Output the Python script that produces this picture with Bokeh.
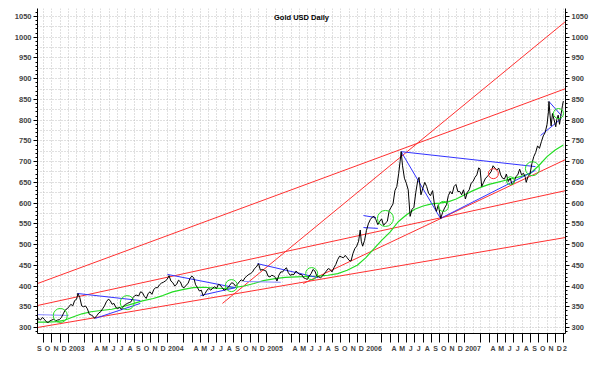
from datetime import date
from bokeh.plotting import figure
from bokeh.models import Range1d, LinearAxis, FixedTicker, Label
from bokeh.embed import file_html
from bokeh.resources import INLINE

# ---------------- data ----------------
price_dates = [
 "2002-09-09","2002-09-13","2002-09-20","2002-09-27","2002-10-04","2002-10-11","2002-10-18","2002-10-25",
 "2002-11-01","2002-11-08","2002-11-15","2002-11-22","2002-11-29","2002-12-06","2002-12-13","2002-12-20","2002-12-27",
 "2003-01-03","2003-01-10","2003-01-17","2003-01-24","2003-01-31","2003-02-05","2003-02-12","2003-02-19","2003-02-26",
 "2003-03-05","2003-03-12","2003-03-19","2003-03-26","2003-04-02","2003-04-07","2003-04-15","2003-04-23","2003-04-30",
 "2003-05-07","2003-05-14","2003-05-21","2003-05-28","2003-06-04","2003-06-11","2003-06-18","2003-06-25","2003-07-02",
 "2003-07-09","2003-07-16","2003-07-23","2003-07-30","2003-08-06","2003-08-13","2003-08-20","2003-08-27","2003-09-03",
 "2003-09-10","2003-09-17","2003-09-24","2003-10-01","2003-10-08","2003-10-15","2003-10-22","2003-10-29","2003-11-05",
 "2003-11-12","2003-11-19","2003-11-26","2003-12-03","2003-12-10","2003-12-17","2003-12-24","2003-12-31",
 "2004-01-07","2004-01-14","2004-01-21","2004-01-28","2004-02-04","2004-02-11","2004-02-18","2004-02-25","2004-03-03",
 "2004-03-10","2004-03-17","2004-03-24","2004-03-31","2004-04-07","2004-04-14","2004-04-21","2004-04-28","2004-05-05",
 "2004-05-12","2004-05-19","2004-05-26","2004-06-02","2004-06-09","2004-06-16","2004-06-23","2004-06-30","2004-07-07",
 "2004-07-14","2004-07-21","2004-07-28","2004-08-04","2004-08-11","2004-08-18","2004-08-25","2004-09-01","2004-09-08",
 "2004-09-15","2004-09-22","2004-09-29","2004-10-06","2004-10-13","2004-10-20","2004-10-27","2004-11-03","2004-11-10",
 "2004-11-17","2004-11-24","2004-12-02","2004-12-09","2004-12-16","2004-12-23","2004-12-30",
 "2005-01-06","2005-01-13","2005-01-20","2005-01-27","2005-02-03","2005-02-08","2005-02-15","2005-02-22","2005-03-01",
 "2005-03-08","2005-03-15","2005-03-22","2005-03-29","2005-04-05","2005-04-12","2005-04-19","2005-04-26","2005-05-03",
 "2005-05-10","2005-05-17","2005-05-24","2005-05-31","2005-06-07","2005-06-14","2005-06-21","2005-06-28","2005-07-05",
 "2005-07-12","2005-07-19","2005-07-26","2005-08-02","2005-08-09","2005-08-16","2005-08-23","2005-08-30","2005-09-06",
 "2005-09-13","2005-09-20","2005-09-27","2005-10-04","2005-10-11","2005-10-18","2005-10-25","2005-11-01","2005-11-08",
 "2005-11-15","2005-11-22","2005-11-29","2005-12-06","2005-12-12","2005-12-16","2005-12-21","2005-12-28",
 "2006-01-04","2006-01-11","2006-01-18","2006-01-25","2006-02-01","2006-02-08","2006-02-15","2006-02-22","2006-03-01",
 "2006-03-08","2006-03-15","2006-03-22","2006-03-29","2006-04-05","2006-04-12","2006-04-19","2006-04-26","2006-05-03",
 "2006-05-08","2006-05-12","2006-05-17","2006-05-24","2006-05-31","2006-06-07","2006-06-14","2006-06-21","2006-06-28",
 "2006-07-05","2006-07-12","2006-07-17","2006-07-24","2006-07-31","2006-08-07","2006-08-14","2006-08-21","2006-08-28",
 "2006-09-05","2006-09-12","2006-09-19","2006-09-26","2006-10-05","2006-10-12","2006-10-19","2006-10-26","2006-11-02",
 "2006-11-09","2006-11-16","2006-11-23","2006-11-30","2006-12-07","2006-12-14","2006-12-21","2006-12-28",
 "2007-01-04","2007-01-11","2007-01-18","2007-01-25","2007-02-01","2007-02-08","2007-02-15","2007-02-22","2007-02-27",
 "2007-03-05","2007-03-12","2007-03-19","2007-03-26","2007-04-02","2007-04-09","2007-04-16","2007-04-23","2007-04-30",
 "2007-05-07","2007-05-14","2007-05-21","2007-05-28","2007-06-04","2007-06-11","2007-06-18","2007-06-25","2007-07-02",
 "2007-07-09","2007-07-16","2007-07-23","2007-07-30","2007-08-06","2007-08-13","2007-08-16","2007-08-23","2007-08-30",
 "2007-09-06","2007-09-13","2007-09-20","2007-09-27","2007-10-04","2007-10-11","2007-10-18","2007-10-25","2007-11-01",
 "2007-11-06","2007-11-08","2007-11-12","2007-11-16","2007-11-21","2007-11-28","2007-12-03","2007-12-07","2007-12-12",
 "2007-12-17","2007-12-21","2007-12-28","2007-12-31"]
price_values = [
 316,322,318,324,320,314,312,316,318,320,316,318,319,324,333,342,345,
 350,356,352,365,368,382,372,352,350,352,345,332,330,327,322,328,335,338,
 345,352,362,368,365,356,358,348,346,348,344,352,355,358,360,362,372,377,
 378,376,386,384,375,370,382,386,380,392,396,396,403,407,409,412,416,
 425,412,408,400,404,414,410,398,396,402,406,418,424,420,403,396,388,390,
 376,382,390,394,390,395,398,394,404,402,396,390,392,396,402,408,406,400,
 404,410,415,412,420,424,428,430,434,442,446,454,438,440,438,436,
 424,422,426,424,420,412,426,434,434,440,444,432,426,428,428,436,432,428,
 428,420,418,416,424,430,440,436,424,422,420,424,430,436,442,440,434,444,
 452,464,472,470,468,474,468,462,460,478,490,496,508,535,508,496,510,
 534,550,560,566,568,560,548,556,562,546,552,556,582,590,598,630,640,672,
 700,724,690,660,648,632,568,585,590,626,654,662,620,636,650,640,624,618,
 630,595,580,596,563,578,588,596,618,628,622,640,645,628,628,620,632,
 610,626,632,648,652,662,668,685,682,640,650,660,664,670,676,690,684,680,
 684,668,660,658,670,652,660,645,650,664,668,682,668,672,662,650,664,670,
 695,712,722,738,732,748,762,770,790,820,845,812,786,816,798,784,802,812,
 790,808,836,846]

ma_dates = ["2002-09-09","2002-10-15","2002-11-20","2002-12-20","2003-01-20","2003-02-20","2003-03-25",
 "2003-05-01","2003-06-10","2003-07-20","2003-08-25","2003-10-01","2003-11-10","2003-12-15","2004-01-20",
 "2004-03-01","2004-04-05","2004-05-15","2004-06-20","2004-07-25","2004-09-01","2004-10-10","2004-11-15",
 "2004-12-20","2005-02-01","2005-03-10","2005-04-20","2005-06-01","2005-07-10","2005-08-15","2005-09-20",
 "2005-10-25","2005-12-01","2006-01-01","2006-02-01","2006-03-01","2006-04-01","2006-05-01","2006-06-01",
 "2006-07-01","2006-08-01","2006-09-01","2006-10-01","2006-11-01","2006-12-01","2007-01-01","2007-02-01",
 "2007-03-01","2007-04-01","2007-05-01","2007-06-01","2007-07-01","2007-08-01","2007-09-01","2007-10-01",
 "2007-11-01","2007-12-01","2007-12-31"]
ma_values = [313,313,314,318,326,333,338,341,344,350,357,364,370,377,386,392,396,397,395,394,396,400,406,
 413,418,421,422,423,424,426,430,438,450,468,490,510,530,555,572,585,593,598,600,603,610,620,630,638,645,
 650,655,660,665,672,690,712,728,740]

red_x0 = ["2002-09-09","2002-09-09","2002-09-09","2004-07-22","2005-05-16"]
red_y0 = [406, 353, 300, 358, 406]
red_x1 = ["2008-01-08","2008-01-08","2008-01-08","2008-01-08","2008-01-08"]
red_y1 = [876, 630, 517, 1038, 705]

blue_x0 = ["2002-09-09","2003-02-03","2003-04-10","2004-01-01","2004-05-02","2004-11-28","2004-10-08",
           "2006-05-12","2006-05-12","2006-10-04","2005-12-24","2005-12-24","2007-11-08","2007-10-08"]
blue_y0 = [331, 382, 322, 428, 377, 454, 411, 724, 724, 563, 570, 541, 845, 763]
blue_x1 = ["2003-01-01","2003-09-23","2003-09-23","2004-09-08","2004-09-08","2005-07-10","2005-02-22",
           "2007-09-19","2006-10-04","2007-09-19","2006-02-08","2006-02-15","2007-12-24","2007-12-24"]
blue_y1 = [329, 365, 358, 396, 396, 420, 409, 688, 563, 679, 565, 539, 811, 804]
blue_col = ["#8888ff","#3333ff","#3333ff","#3333ff","#3333ff","#3333ff","#8888ff",
            "#3333ff","#3333ff","#3333ff","#3333ff","#3333ff","#3333ff","#3333ff"]

gc_dates = ["2002-12-02","2003-08-06","2004-08-24","2005-06-16","2006-03-15","2006-10-15","2007-06-19",
            "2007-09-08","2007-12-13"]
gc_values = [329, 360, 401, 430, 563, 592, 654, 683, 816]
gc_size = [14, 14, 12, 12, 16, 10, 8, 14, 10]
rc_dates = ["2007-04-17"]
rc_values = [671]
rc_size = [10]

y_ticks = list(range(300, 1051, 50))
month_letters = "JFMAMJJASOND"

# ---------------- helpers ----------------
BASE = date(2002, 1, 1)
def dn(s):
    return (date.fromisoformat(s) - BASE).days

x_lo, x_hi = dn("2002-09-09"), dn("2008-01-08")

p = figure(width=600, height=367, output_backend="svg", toolbar_location=None, title=None,
           x_range=Range1d(x_lo, x_hi), y_range=Range1d(285.5, 1069.3),
           min_border_left=37, min_border_right=35, min_border_top=8, min_border_bottom=34,
           background_fill_color="white", border_fill_color="white")
p.outline_line_color = None

# month ticks
bars, lab_pos, lab_txt, month_starts = [], [], {}, []
for y in range(2002, 2009):
    for m in range(1, 13):
        d = date(y, m, 1)
        k = (d - BASE).days
        if k > x_hi or k < x_lo - 40:
            continue
        if k >= x_lo:
            month_starts.append(k)
            if m != 2:
                bars.append(k)
        if m == 1:
            pos = (date(y, 2, 1) - BASE).days
            if pos < x_hi:
                lab_pos.append(pos); lab_txt[pos] = str(y)
            else:
                lab_pos.append(x_hi - 2); lab_txt[x_hi - 2] = "2"
        elif m in (2, 3):
            pass
        else:
            pos = k + 15
            if x_lo <= pos <= x_hi:
                lab_pos.append(pos); lab_txt[pos] = month_letters[m - 1]

xa = p.xaxis[0]
xa.ticker = FixedTicker(ticks=lab_pos, minor_ticks=bars)
xa.major_label_overrides = lab_txt
xa.major_tick_out = 0
xa.major_tick_in = 0
xa.minor_tick_out = 9
xa.minor_tick_in = 0
xa.major_label_standoff = 2
xa.major_label_text_font = "Liberation Sans"
xa.major_label_text_font_style = "bold"
xa.major_label_text_font_size = "7px"
xa.axis_line_color = "black"

def style_y(ax, standoff):
    ax.ticker = FixedTicker(ticks=y_ticks, minor_ticks=list(range(290, 1070, 10)))
    ax.major_tick_out = 4
    ax.major_tick_in = 0
    ax.minor_tick_out = 2
    ax.minor_tick_in = 0
    ax.major_label_standoff = standoff
    ax.major_label_text_font = "Liberation Sans"
    ax.major_label_text_font_style = "bold"
    ax.major_label_text_font_size = "7.5px"
    ax.axis_line_color = "black"

style_y(p.yaxis[0], 2)
ry = LinearAxis()
p.add_layout(ry, "right")
style_y(ry, 2)

p.xgrid.ticker = FixedTicker(ticks=month_starts)
p.ygrid.ticker = FixedTicker(ticks=list(range(300, 1075, 25)))
for g in (p.xgrid[0], p.ygrid[0]):
    g.grid_line_color = "#c0c0c0"
    g.grid_line_dash = "1 2"
    g.grid_line_width = 1

# lines
p.segment(x0=[dn(s) for s in red_x0], y0=red_y0, x1=[dn(s) for s in red_x1], y1=red_y1,
          line_color="#ff3030", line_width=1)
p.line([dn(s) for s in ma_dates], ma_values, line_color="#22dd22", line_width=1.2)
p.segment(x0=[dn(s) for s in blue_x0], y0=blue_y0, x1=[dn(s) for s in blue_x1], y1=blue_y1,
          line_color=blue_col, line_width=1)
p.line([dn(s) for s in price_dates], price_values, line_color="black", line_width=1)
p.scatter([dn(s) for s in gc_dates], gc_values, size=gc_size, marker="circle",
          fill_color=None, line_color="#22dd22", line_width=1)
p.scatter([dn(s) for s in rc_dates], rc_values, size=rc_size, marker="circle",
          fill_color=None, line_color="#ff3030", line_width=1)

title = Label(x=(x_lo + x_hi) / 2, y=1047.5, text="Gold USD Daily", text_align="center",
              text_baseline="middle", text_font="Liberation Sans", text_font_style="bold",
              text_font_size="7.5px", text_color="black")
p.add_layout(title)

open("out.html", "w").write(file_html(p, INLINE))
